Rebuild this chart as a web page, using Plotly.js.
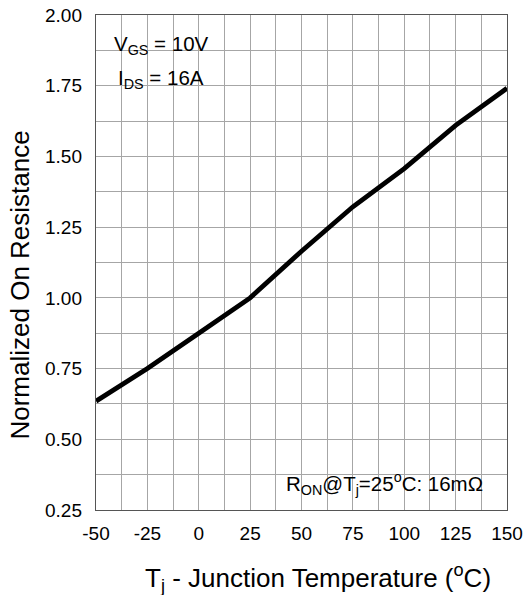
<!DOCTYPE html>
<html>
<head>
<meta charset="utf-8">
<script src="https://cdn.plot.ly/plotly-3.0.1.min.js"></script>
<style>html,body{margin:0;padding:0;background:#fff}#chart{width:526px;height:595px}</style>
</head>
<body>
<div id="chart"></div>
<script>
const temperature = [-50, -25, 0, 25, 50, 75, 100, 125, 150];
const normalizedRon = [0.635, 0.75, 0.875, 1.0, 1.165, 1.322, 1.457, 1.61, 1.741];
const xTickVals = [-50, -25, 0, 25, 50, 75, 100, 125, 150];
const xTickText = ['-50', '-25', '0', '25', '50', '75', '100', '125', '150'];
const yTickVals = [0.25, 0.5, 0.75, 1.0, 1.25, 1.5, 1.75, 2.0];
const yTickText = ['0.25', '0.50', '0.75', '1.00', '1.25', '1.50', '1.75', '2.00'];

const FONT = 'Liberation Sans, Arial, sans-serif';
const gridCol = '#a6a6a6';
const TICK = 19, TITLE = 26, NOTE = 20.5;

const trace = {
  x: temperature, y: normalizedRon, mode: 'lines', type: 'scatter',
  line: {color: '#000', width: 4.8}, showlegend: false, hoverinfo: 'skip'
};

const layout = {
  width: 526, height: 595,
  margin: {l: 96, r: 19, t: 15, b: 85},
  paper_bgcolor: '#fff', plot_bgcolor: '#fff',
  font: {family: FONT, size: TICK, color: '#000'},
  xaxis: {
    range: [-50, 150], tickvals: xTickVals, ticktext: xTickText, ticks: '',
    showgrid: true, gridcolor: gridCol, gridwidth: 1,
    minor: {dtick: 12.5, showgrid: true, gridcolor: gridCol, gridwidth: 1},
    showline: true, linecolor: '#555', linewidth: 1.2, mirror: true,
    zeroline: false, ticklabelstandoff: 6,
    tickfont: {family: FONT, size: TICK}
  },
  yaxis: {
    range: [0.25, 2.0], tickvals: yTickVals, ticktext: yTickText, ticks: '',
    showgrid: true, gridcolor: gridCol, gridwidth: 1,
    minor: {dtick: 0.125, showgrid: true, gridcolor: gridCol, gridwidth: 1},
    showline: true, linecolor: '#555', linewidth: 1.2, mirror: true,
    zeroline: false, ticklabelstandoff: 9,
    tickfont: {family: FONT, size: TICK}
  },
  shapes: [
    {type: 'rect', xref: 'paper', yref: 'paper', x0: 0.024, x1: 0.294, y0: 0.889, y1: 0.990,
     fillcolor: '#fff', line: {width: 0}, layer: 'between'},
    {type: 'rect', xref: 'paper', yref: 'paper', x0: 0.423, x1: 0.983, y0: 0.016, y1: 0.093,
     fillcolor: '#fff', line: {width: 0}, layer: 'between'}
  ],
  annotations: [
    {xref: 'paper', yref: 'paper', x: 0.159, y: 0.940, xanchor: 'center', yanchor: 'middle',
     text: 'V<sub>GS</sub> = 10V', showarrow: false, font: {family: FONT, size: NOTE}},
    {xref: 'paper', yref: 'paper', x: 0.159, y: 0.870, xanchor: 'center', yanchor: 'middle',
     text: 'I<sub>DS</sub> = 16A', showarrow: false, font: {family: FONT, size: NOTE}},
    {xref: 'paper', yref: 'paper', x: 0.703, y: 0.0545, xanchor: 'center', yanchor: 'middle',
     text: 'R<sub>ON</sub>@T<sub>j</sub>=25<sup>o</sup>C: 16mΩ', showarrow: false,
     font: {family: FONT, size: NOTE}},
    {xref: 'paper', yref: 'paper', x: -0.1873, y: 0.4535, xanchor: 'center', yanchor: 'middle',
     text: 'Normalized On Resistance', textangle: -90, showarrow: false,
     font: {family: FONT, size: TITLE}},
    {xref: 'paper', yref: 'paper', x: 0.540, y: -0.1374, xanchor: 'center', yanchor: 'middle',
     text: 'T<sub>j</sub> - Junction Temperature (<sup>o</sup>C)', showarrow: false,
     font: {family: FONT, size: TITLE}}
  ]
};

Plotly.newPlot('chart', [trace], layout, {staticPlot: true, displayModeBar: false});
</script>
</body>
</html>
